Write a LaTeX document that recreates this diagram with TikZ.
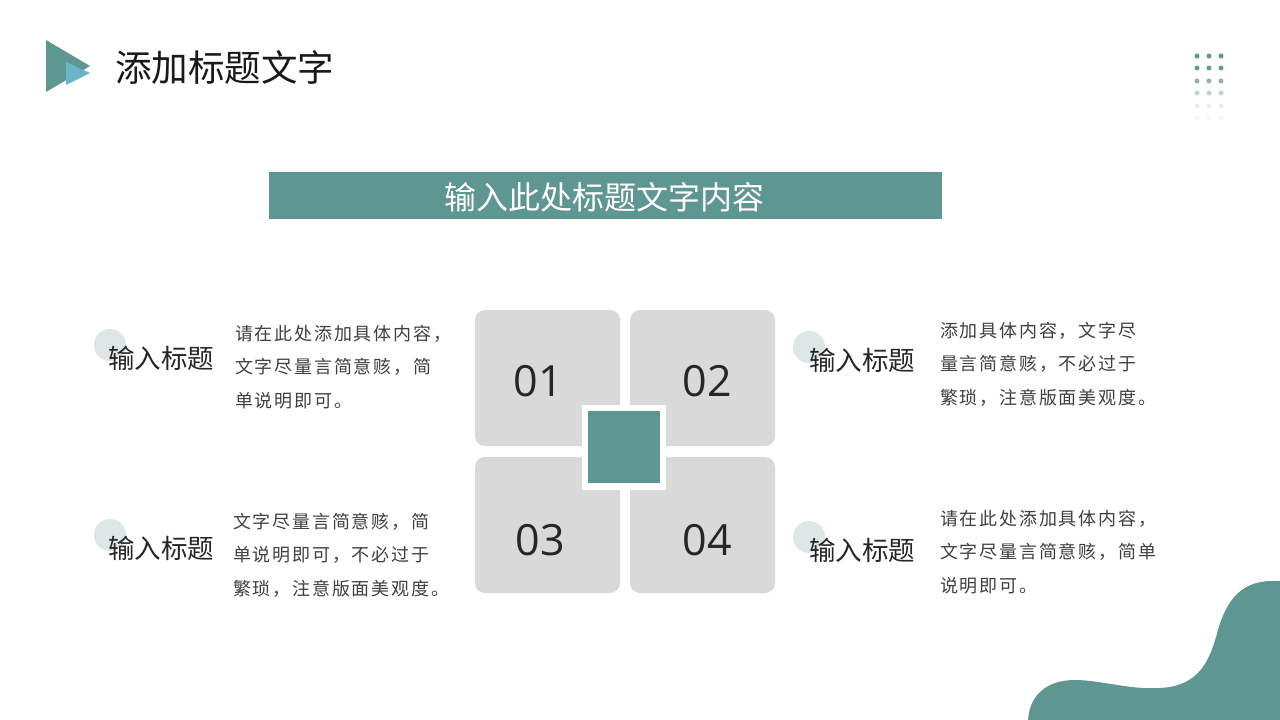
\documentclass[tikz,border=0pt]{standalone}
\usepackage{fontspec}
\newfontfamily\cjk{Noto Sans CJK SC}
\newfontfamily\cjksp[LetterSpace=10]{Noto Sans CJK SC}
\newfontfamily\numfont{Open Sans}
\definecolor{teal1}{HTML}{5E9691}
\definecolor{lblue}{HTML}{6AB4C8}
\definecolor{greybox}{HTML}{D9D9D9}
\definecolor{circ}{HTML}{DDE7E5}
\definecolor{bodytxt}{HTML}{404040}
\tikzset{
  tile/.style={fill=greybox, rounded corners=10pt},
  numtxt/.style={font=\numfont\fontsize{43}{50}\selectfont, text=black!85},
  headtxt/.style={font=\cjk\fontsize{26.5}{30}\selectfont, text=black!85, anchor=west, inner sep=0pt},
  bodypar/.style={font=\cjksp\fontsize{18}{33.5}\selectfont, text=bodytxt, anchor=west, align=left, inner sep=0pt},
  dotc/.style={circle, fill=teal1, inner sep=0pt, minimum size=5pt},
}
\begin{document}
\begin{tikzpicture}[x=1pt,y=-1pt]
\useasboundingbox[fill=white] (0,0) rectangle (1280,720);
% logo triangles
\fill[teal1] (46,40) -- (90,66) -- (46,92) -- cycle;
\fill[lblue] (66,62) -- (90,73) -- (66,85) -- cycle;
\node[font=\cjk\fontsize{36.5}{40}\selectfont, anchor=west, inner sep=0pt, text=black!90] (title) at (115,68) {添加标题文字};
% dots
\foreach \y/\o [count=\r] in {56/1,68/0.95,81/0.7,93/0.4,106/0.15,118/0.05}{
  \foreach \x [count=\c] in {1197,1209,1221}{
    \node[dotc, opacity=\o] (dot\r-\c) at (\x,\y) {};
  }
}
% banner
\fill[teal1] (269,172) rectangle (942,219);
\node[font=\cjk\fontsize{32}{36}\selectfont, text=white, inner sep=0pt] (banner) at (604,197) {输入此处标题文字内容};
% tiles
\fill[tile] (475,310) rectangle (620,446);
\fill[tile] (630,310) rectangle (775,446);
\fill[tile] (475,457) rectangle (620,593);
\fill[tile] (630,457) rectangle (775,593);
\fill[white] (582,405) rectangle (666,490);
\fill[teal1] (588,411) rectangle (660,483);
\node[numtxt] (n1) at (538,381) {01};
\node[numtxt] (n2) at (707,381) {02};
\node[numtxt] (n3) at (540,540) {03};
\node[numtxt] (n4) at (707,540) {04};
% circles
\fill[circ] (110,345) circle (16);
\fill[circ] (110,535) circle (16);
\fill[circ] (809,347) circle (16);
\fill[circ] (809,537) circle (16);
\node[headtxt] (h1) at (108,358) {输入标题};
\node[headtxt] (h3) at (108,548) {输入标题};
\node[headtxt] (h2) at (809,360) {输入标题};
\node[headtxt] (h4) at (809,550) {输入标题};
% body texts
\node[bodypar] (b1) at (235,367) {请在此处添加具体内容，\\文字尽量言简意赅，简\\单说明即可。};
\node[bodypar] (b3) at (233,555) {文字尽量言简意赅，简\\单说明即可，不必过于\\繁琐，注意版面美观度。};
\node[bodypar] (b2) at (940,364) {添加具体内容，文字尽\\量言简意赅，不必过于\\繁琐，注意版面美观度。};
\node[bodypar] (b4) at (940,552) {请在此处添加具体内容，\\文字尽量言简意赅，简单\\说明即可。};
% blob
\fill[teal1] (1028,720) .. controls (1030,692) and (1050,680) .. (1075,680)
  .. controls (1100,680) and (1130,690) .. (1160,688)
  .. controls (1200,686) and (1210,660) .. (1218,630)
  .. controls (1228,595) and (1245,582) .. (1270,581)
  -- (1280,581) -- (1280,720) -- cycle;
\end{tikzpicture}
\end{document}
